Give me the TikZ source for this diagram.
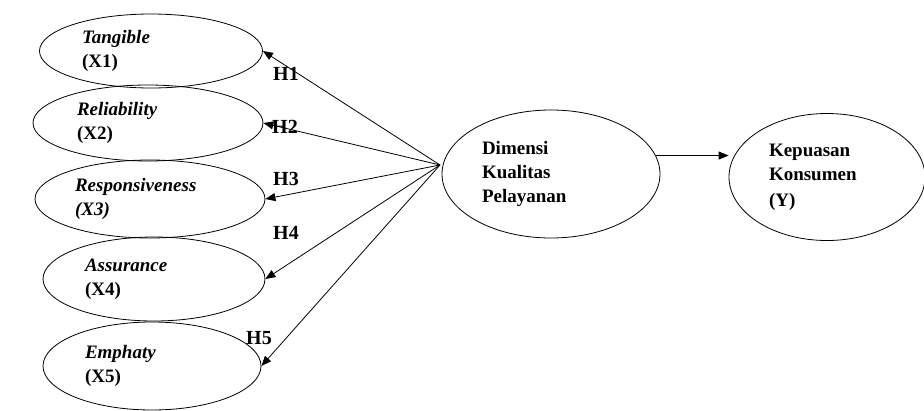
\documentclass[tikz,border=0pt]{standalone}
\usepackage{fontspec}
\setmainfont{Liberation Serif}
\usepackage{tikz}
\usetikzlibrary{arrows.meta, calc, shapes.geometric}

\begin{document}
\begin{tikzpicture}[x=1pt, y=-1pt, line width=0.8pt,
  every node/.style={align=left, font=\fontsize{19}{24}\selectfont\bfseries},
  var/.style={ellipse, draw, inner sep=0pt},
  hyp/.style={font=\fontsize{20}{24}\selectfont\bfseries},
  tip/.style={-{Triangle[length=10pt, width=8pt]}}]
\useasboundingbox (0,0) rectangle (924,410);
% dimensi (X1..X5)
\node[var, minimum width=223pt, minimum height=74pt, text width=138pt] (x1) at (151,51) {\textit{Tangible}\\(X1)};
\node[var, minimum width=230pt, minimum height=76pt, text width=142pt] (x2) at (148,123) {\textit{Reliability}\\(X2)};
\node[var, minimum width=230pt, minimum height=78pt, text width=150pt] (x3) at (150,199) {\textit{Responsiveness}\\\textit{(X3)}};
\node[var, minimum width=222pt, minimum height=84pt, text width=138pt] (x4) at (154,279) {\textit{Assurance}\\(X4)};
\node[var, minimum width=218pt, minimum height=88pt, text width=134pt] (x5) at (152,366) {\textit{Emphaty}\\(X5)};
% variabel utama
\node[var, minimum width=218pt, minimum height=128pt, text width=138pt] (dim) at (551,174) {Dimensi\\Kualitas\\Pelayanan\\[12pt]};
\node[var, minimum width=196pt, minimum height=127pt, text width=116pt] (kep) at (827,177) {Kepuasan\\Konsumen\\[2pt](Y)};
\coordinate (hub) at (440,165);
\foreach \v in {x1,x2,x3,x4,x5}
  \draw[tip] (hub) -- (\v.east);
\draw[tip] (dim.10) -- (dim.10 -| kep.west);
% hipotesis
\node[hyp] (h1) at (286,74) {H1};
\node[hyp] (h2) at (285,127) {H2};
\node[hyp] (h3) at (286,179) {H3};
\node[hyp] (h4) at (286,233) {H4};
\node[hyp] (h5) at (259,338) {H5};
\end{tikzpicture}
\end{document}
